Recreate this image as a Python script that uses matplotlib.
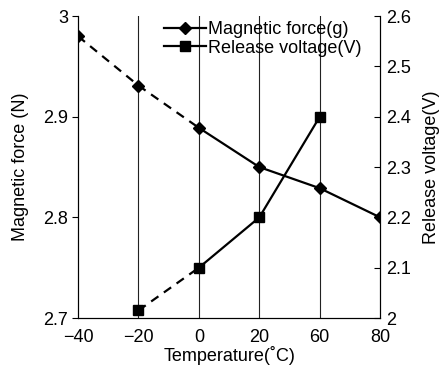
import numpy as np
import matplotlib
matplotlib.use("Agg")
import matplotlib.pyplot as plt
from matplotlib.lines import Line2D

# ===============================
# Data
# ===============================
temps = ["\u221240", "\u221220", "0", "20", "60", "80"]
force = [2.980, 2.931, 2.889, 2.850, 2.829, 2.800]
voltage = [np.nan, 2.015, 2.100, 2.200, 2.400, np.nan]
grid_at = [1, 2, 3, 4]

plt.rcParams["font.family"] = ["Liberation Sans", "DejaVu Sans"]
plt.rcParams["font.size"] = 13

fig = plt.figure(figsize=(4.41, 3.67), dpi=100)
ax = fig.add_axes([0.177, 0.1335, 0.685, 0.8225])
ax2 = ax.twinx()

x = np.arange(len(temps))

for g in grid_at:
    ax.axvline(g, color="#222222", lw=0.8, zorder=0)

# magnetic force: dashed below 0 degC, solid after
ax.plot(x[:3], force[:3], color="black", lw=1.6, ls=(0, (4, 3)))
ax.plot(x[2:], force[2:], color="black", lw=1.6)
ax.plot(x, force, ls="none", marker="D", ms=6.5, color="black")

# release voltage
ax2.plot(x[1:3], voltage[1:3], color="black", lw=1.6, ls=(0, (4, 3)))
ax2.plot(x[2:5], voltage[2:5], color="black", lw=1.6)
ax2.plot(x, voltage, ls="none", marker="s", ms=7, color="black")

ax.set_xlim(0, 5)
ax.set_ylim(2.7, 3.0)
ax2.set_ylim(2.0, 2.6)
ax.set_xticks(x)
ax.set_xticklabels(temps)
ax.set_yticks([2.7, 2.8, 2.9, 3.0])
ax.set_yticklabels(["2.7", "2.8", "2.9", "3"])
ax2.set_yticks([2.0, 2.1, 2.2, 2.3, 2.4, 2.5, 2.6])
ax2.set_yticklabels(["2", "2.1", "2.2", "2.3", "2.4", "2.5", "2.6"])

ax.tick_params(axis="x", length=0, pad=8)
ax.tick_params(axis="y", direction="out", length=4, pad=3)
ax2.tick_params(axis="y", direction="in", length=4, pad=4)

for a in (ax, ax2):
    a.spines["top"].set_visible(False)

ax.set_xlabel("Temperature(\u02daC)", labelpad=0)
ax.set_ylabel("Magnetic force (N)", labelpad=10)
ax2.set_ylabel("Release voltage(V)", labelpad=9)

handles = [
    Line2D([], [], color="black", lw=1.6, marker="D", ms=6.5),
    Line2D([], [], color="black", lw=1.6, marker="s", ms=7),
]
ax.legend(handles, ["Magnetic force(g)", "Release voltage(V)"],
          loc="upper right", bbox_to_anchor=(0.975, 1.02), frameon=False,
          handlelength=2.3, handletextpad=0.15, labelspacing=0.1,
          borderaxespad=0.2)

fig.savefig("out.png", dpi=100)
